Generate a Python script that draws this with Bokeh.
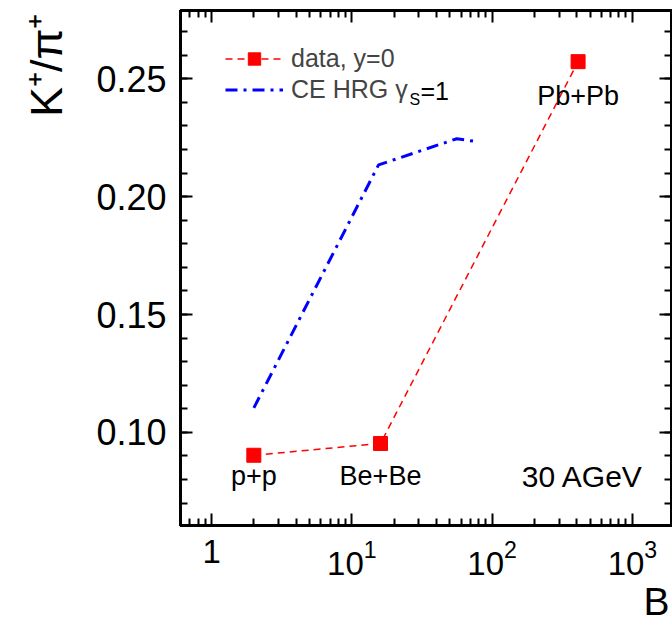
import math
from bokeh.plotting import figure
from bokeh.models import (Legend, LegendItem, Label, FixedTicker, LogAxis, LinearAxis, Title,
                          SingleIntervalTicker, LogTickFormatter, PrintfTickFormatter)
from bokeh.embed import file_html
from bokeh.resources import INLINE
from bokeh.core.properties import value

# ---- data ----
systems = ["p+p", "Be+Be", "Pb+Pb"]
B_data = [2, 16, 410]
ratio_data = [0.0903, 0.0953, 0.2573]
B_hrg = [2, 15.5, 56, 77]
ratio_hrg = [0.1104, 0.2135, 0.2246, 0.2234]
x_major = [1, 10, 100, 1000]
x_minor = [m * d for d in (0.1, 1, 10, 100) for m in range(2, 10)]
energy_label = "30 AGeV"
legend_labels = ["data, y=0", "CE HRG γ"]
x_title = "B"
y_title = "K⁺/π⁺"

FONT = "Liberation Sans"
W, H = 672, 625
L, R, T, BOT = 179, 1, 10, 100
DY = 9  # baseline correction for alphabetic text

p = figure(width=W, height=H, x_axis_type="log", x_range=(0.6, 1900), y_range=(0.0605, 0.279),
           output_backend="svg", toolbar_location=None,
           min_border_left=L, min_border_right=R, min_border_top=T, min_border_bottom=BOT)
p.grid.visible = False
p.outline_line_color = "black"
p.outline_line_width = 3
p.background_fill_color = "white"
p.border_fill_color = "white"

xt = FixedTicker(ticks=x_major, minor_ticks=x_minor)
yt = SingleIntervalTicker(interval=0.05, num_minor_ticks=5)

def style(ax, labels=True):
    ax.axis_line_width = 3
    ax.major_tick_in = 12
    ax.major_tick_out = 0
    ax.minor_tick_in = 7
    ax.minor_tick_out = 0
    ax.major_tick_line_width = 2
    ax.minor_tick_line_width = 2
    ax.major_tick_line_color = "black"
    ax.minor_tick_line_color = "black"
    ax.axis_line_color = "black"
    ax.major_label_text_font = FONT
    ax.major_label_text_color = "black"
    if not labels:
        ax.major_label_text_font_size = "1px"
        ax.major_label_text_alpha = 0
        ax.major_label_standoff = 0

xa = p.xaxis[0]
xa.ticker = xt
xa.formatter = LogTickFormatter()
xa.major_label_overrides = {1: "1"}
style(xa)
xa.major_label_text_font_size = "33px"
xa.major_label_standoff = 14

ya = p.yaxis[0]
ya.ticker = yt
ya.formatter = PrintfTickFormatter(format="%.2f")
style(ya)
ya.major_label_text_font_size = "36px"
ya.major_label_standoff = 14

top = LogAxis(ticker=xt, formatter=PrintfTickFormatter(format=" "))
style(top, labels=False)
p.add_layout(top, "above")
right = LinearAxis(ticker=yt, formatter=PrintfTickFormatter(format=" "))
style(right, labels=False)
p.add_layout(right, "right")

# ---- axis titles ----
p.add_layout(Title(text=x_title, align="right", text_font=FONT, text_font_size="39px",
                   text_font_style="normal", text_color="black", standoff=0, offset=2), "below")
p.add_layout(Title(text=y_title, align="right", vertical_align="top", text_font=FONT,
                   text_font_size="45px", text_font_style="normal", text_color="black",
                   standoff=40, offset=3), "left")

# ---- glyphs ----
hrg = p.line(B_hrg, ratio_hrg, line_color="#0000FF", line_width=3, line_dash="12 6 3 6")
dl = p.line(B_data, ratio_data, line_color="#FF0000", line_width=1.5, line_dash="7 5")
ds = p.scatter(B_data, ratio_data, marker="square", size=14, fill_color="#FF0000", line_color="#FF0000")

label_offsets = [30 - DY, 42 - DY, 43 - DY]
p.text(x=B_data, y=ratio_data, text=systems, y_offset=label_offsets, text_align="center",
       text_baseline="alphabetic", text_font=value(FONT), text_font_size="27px", text_color="black")

def fx(cx):
    return cx - L

def fy(cy):
    return (H - BOT) - cy + DY

p.add_layout(Label(x=fx(642), y=fy(485), x_units="screen", y_units="screen", text=energy_label,
                   text_align="right", text_baseline="alphabetic", text_font=FONT,
                   text_font_size="30px", text_color="black"))

# ---- legend ----
legend = Legend(items=[LegendItem(label=legend_labels[0], renderers=[dl, ds]),
                       LegendItem(label=legend_labels[1], renderers=[hrg])],
                location=(45, 420), glyph_width=58, glyph_height=31, label_height=31,
                spacing=0, padding=0, margin=0, label_standoff=8,
                label_text_font=FONT, label_text_font_size="25px",
                border_line_color=None, background_fill_alpha=0)
p.add_layout(legend)
p.add_layout(Label(x=fx(408), y=fy(108), x_units="screen", y_units="screen", text="S",
                   text_align="left", text_baseline="alphabetic", text_font=FONT,
                   text_font_size="16px", text_color="black"))
p.add_layout(Label(x=fx(419), y=fy(99), x_units="screen", y_units="screen", text="=1",
                   text_align="left", text_baseline="alphabetic", text_font=FONT,
                   text_font_size="25px", text_color="black"))

open("out.html", "w").write(file_html(p, INLINE))
